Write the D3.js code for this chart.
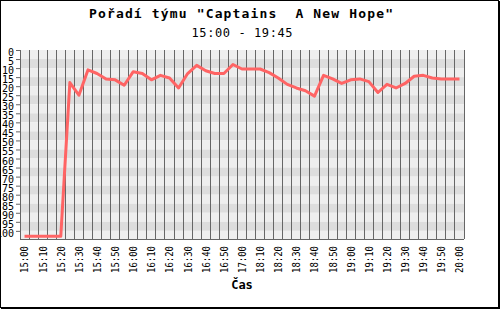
<!DOCTYPE html>
<html>
<head>
<meta charset="utf-8">
<script src="https://cdnjs.cloudflare.com/ajax/libs/d3/7.8.5/d3.min.js"></script>
<style>
  body { margin: 0; background: #fff; }
  text { font-family: "DejaVu Sans Mono", monospace; white-space: pre; }
</style>
</head>
<body>
<div id="chart"></div>
<script>
// Time slots (5 minute steps, with a break after 17:00)
var times = ["15:00","15:05","15:10","15:15","15:20","15:25","15:30","15:35","15:40","15:45",
             "15:50","15:55","16:00","16:05","16:10","16:15","16:20","16:25","16:30","16:35",
             "16:40","16:45","16:50","16:55","17:00","18:05","18:10","18:15","18:20","18:25",
             "18:30","18:35","18:40","18:45","18:50","18:55","19:00","19:05","19:10","19:15",
             "19:20","19:25","19:30","19:35","19:40","19:45","19:50","19:55","20:00"];

// Team rank in each slot
var ranks = [103,103,103,103,103,18,25,11,13,16,
             16.5,19.5,12,13,16.5,14,15.5,21,13,8.5,
             11.5,13,13,8,10.5,10.5,10.5,12.5,15.5,19,
             21,22.5,25.5,14,16,18.5,16.5,16,17.5,23.5,
             19,21,18.5,14.5,14,15.5,16,16,16];

var yTicks = d3.range(0, 101, 5);

var title = "Pořadí týmu \"Captains  A New Hope\"";
var subtitle = "15:00 - 19:45";
var xTitle = "Čas";

var W = 500, H = 309;
var margin = {top: 50, right: 36, bottom: 70, left: 20};

var svg = d3.select("#chart")
            .append("svg")
            .attr("width", W)
            .attr("height", H);

// Frame round the whole picture
svg.append("rect")
   .attr("x", 0.5).attr("y", 0.5)
   .attr("width", W - 2).attr("height", H - 2)
   .attr("fill", "#fff")
   .attr("stroke", "#000");
svg.append("line").attr("x1", W - 1).attr("x2", W - 1).attr("y1", 1).attr("y2", H)
   .attr("stroke", "#000").attr("stroke-width", 2);
svg.append("line").attr("x1", 1).attr("x2", W).attr("y1", H - 1).attr("y2", H - 1)
   .attr("stroke", "#000").attr("stroke-width", 2);

// Scales
var xScale = d3.scaleBand()
  .domain(times)
  .range([margin.left, W - margin.right]);

var yScale = d3.scaleLinear()
  .domain([0, 104.5])
  .range([margin.top, H - margin.bottom]);

var bw = xScale.bandwidth();
var yMax = yScale.domain()[1];

// Stripes every 5 places
svg.append("g")
   .selectAll("rect")
   .data(yTicks)
   .enter()
   .append("rect")
   .attr("x", margin.left)
   .attr("width", W - margin.right - margin.left)
   .attr("y", function(d) { return yScale(d); })
   .attr("height", function(d) { return yScale(Math.min(d + 5, yMax)) - yScale(d); })
   .attr("fill", function(d, i) { return i % 2 ? "#dddddd" : "#eeeeee"; });

// Vertical grid lines between the slots
svg.append("g")
   .selectAll("line")
   .data(times.slice(1).concat(["end"]))
   .enter()
   .append("line")
   .attr("x1", function(d) { return d == "end" ? W - margin.right : xScale(d); })
   .attr("x2", function(d) { return d == "end" ? W - margin.right : xScale(d); })
   .attr("y1", margin.top)
   .attr("y2", H - margin.bottom)
   .attr("stroke", "#666")
   .attr("stroke-width", 1)
   .attr("shape-rendering", "crispEdges");

// Y axis
var yAxis = d3.axisLeft(yScale)
              .tickValues(yTicks)
              .tickSize(4)
              .tickPadding(2);

var yAxisGroup = svg.append("g")
                    .attr("transform", "translate(" + margin.left + ",0)")
                    .call(yAxis);
yAxisGroup.select(".domain").remove();
yAxisGroup.selectAll("line").attr("stroke", "#666");
yAxisGroup.selectAll("text")
          .attr("font-size", 10)
          .attr("font-family", "DejaVu Sans Mono")
          .attr("dy", "0.55em")
          .attr("fill", "#000");

// Axis lines
svg.append("line")
   .attr("x1", margin.left).attr("x2", margin.left)
   .attr("y1", margin.top).attr("y2", H - margin.bottom)
   .attr("stroke", "#666").attr("shape-rendering", "crispEdges");
svg.append("line")
   .attr("x1", margin.left).attr("x2", W - margin.right)
   .attr("y1", H - margin.bottom).attr("y2", H - margin.bottom)
   .attr("stroke", "#666").attr("shape-rendering", "crispEdges");

// X axis, label every other slot
var xAxis = d3.axisBottom(xScale)
              .tickValues(times.filter(function(d, i) { return i % 2 == 0; }))
              .tickSize(0);

var xAxisGroup = svg.append("g")
                    .attr("transform", "translate(0," + (H - margin.bottom) + ")")
                    .call(xAxis);
xAxisGroup.select(".domain").remove();
xAxisGroup.selectAll("text")
          .attr("font-size", 11)
          .attr("font-family", "DejaVu Sans Mono")
          .attr("fill", "#000")
          .attr("text-anchor", "end")
          .attr("transform", "rotate(-90)")
          .attr("x", -7)
          .attr("y", 0)
          .attr("dy", "0.36em")
          .attr("textLength", 27)
          .attr("lengthAdjust", "spacingAndGlyphs");

// Rank line
var line = d3.line()
  .x(function(d, i) { return xScale(times[i]) + bw / 2; })
  .y(function(d) { return yScale(d); });

svg.append("path")
   .datum(ranks)
   .attr("d", line)
   .attr("fill", "none")
   .attr("stroke", "#ff6464")
   .attr("stroke-width", 3)
   .attr("stroke-linejoin", "round");

// Titles
svg.append("text")
   .attr("x", 241).attr("y", 18)
   .attr("text-anchor", "middle")
   .attr("font-size", 13)
   .attr("font-weight", "bold")
   .attr("textLength", 304)
   .text(title);

svg.append("text")
   .attr("x", 242).attr("y", 37)
   .attr("text-anchor", "middle")
   .attr("font-size", 12)
   .attr("textLength", 101)
   .text(subtitle);

svg.append("text")
   .attr("x", 242).attr("y", 289)
   .attr("text-anchor", "middle")
   .attr("font-size", 12)
   .attr("font-weight", "bold")
   .text(xTitle);
</script>
</body>
</html>
